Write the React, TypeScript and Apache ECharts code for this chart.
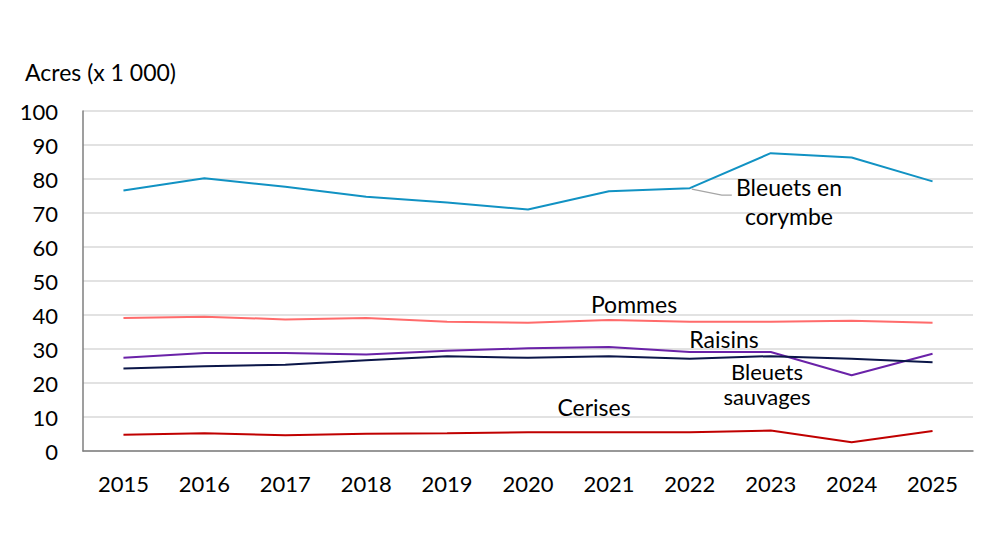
import React, { useEffect, useRef } from "react";
import * as echarts from "echarts";

const years = ["2015", "2016", "2017", "2018", "2019", "2020", "2021", "2022", "2023", "2024", "2025"];

const bleuetsCorymbe = [76.6, 80.2, 77.7, 74.8, 73.1, 71.0, 76.4, 77.3, 87.6, 86.3, 79.3];
const pommes = [39.1, 39.5, 38.7, 39.1, 38.0, 37.7, 38.5, 38.0, 38.0, 38.3, 37.7];
const raisins = [27.4, 28.8, 28.8, 28.4, 29.5, 30.2, 30.6, 29.1, 29.1, 22.3, 28.6];
const bleuetsSauvages = [24.3, 24.9, 25.4, 26.7, 27.9, 27.4, 27.9, 27.1, 27.9, 27.1, 26.1];
const cerises = [4.8, 5.2, 4.6, 5.1, 5.2, 5.5, 5.5, 5.5, 6.0, 2.6, 5.9];

const FONT = "Lato";

const App = () => {
  const chartContainer = useRef<HTMLDivElement>(null);

  useEffect(() => {
    if (!chartContainer.current) return;
    const chart = echarts.init(chartContainer.current, null, { renderer: "svg" });

    const line = (name: string, data: number[], color: string) => ({
      name,
      type: "line" as const,
      data,
      symbol: "none",
      lineStyle: { color, width: 2 },
      itemStyle: { color },
    });

    const label = (text: string, x: number, y: number, size = 23) => ({
      type: "text" as const,
      x,
      y,
      style: {
        text,
        fill: "#000",
        font: `${size}px ${FONT}`,
        align: "center",
        verticalAlign: "middle",
      },
    });

    const option: echarts.EChartsOption = {
      animation: false,
      backgroundColor: "#fff",
      grid: { left: 83, right: 19, top: 111, bottom: 107 },
      xAxis: {
        type: "category",
        data: years,
        boundaryGap: true,
        axisLine: { lineStyle: { color: "#7f7f7f", width: 1.5 } },
        axisTick: { show: false },
        axisLabel: { color: "#000", fontFamily: FONT, fontSize: 22, margin: 21 },
      },
      yAxis: {
        type: "value",
        min: 0,
        max: 100,
        interval: 10,
        axisLine: { show: true, lineStyle: { color: "#7f7f7f", width: 1.5 } },
        axisTick: { show: false },
        splitLine: { lineStyle: { color: "#d9d9d9", width: 1.5 } },
        axisLabel: { color: "#000", fontFamily: FONT, fontSize: 22, margin: 25 },
      },
      series: [
        line("Bleuets en corymbe", bleuetsCorymbe, "#1192c3"),
        line("Pommes", pommes, "#ff6b6b"),
        line("Raisins", raisins, "#6a22a8"),
        line("Bleuets sauvages", bleuetsSauvages, "#0b1648"),
        line("Cerises", cerises, "#c00000"),
      ],
    };

    chart.setOption(option);

    const start = chart.convertToPixel({ seriesIndex: 0 }, [7, bleuetsCorymbe[7]]) as number[];

    chart.setOption({
      graphic: [
        {
          type: "text",
          left: 25,
          top: 60,
          style: { text: "Acres (x 1 000)", fill: "#000", font: `23px ${FONT}` },
        },
        {
          type: "polyline",
          shape: { points: [[start[0] + 2, start[1] + 1], [start[0] + 32, start[1] + 7], [start[0] + 42, start[1] + 7]] },
          style: { stroke: "#a6a6a6", lineWidth: 1.2, fill: "none" },
        },
        label("Bleuets en", 789, 187),
        label("corymbe", 789, 216),
        label("Pommes", 634, 304),
        label("Raisins", 724, 339),
        label("Bleuets", 767, 371, 22),
        label("sauvages", 767, 396, 22),
        label("Cerises", 594, 407),
      ],
    });

    const handleResize = () => chart.resize();
    window.addEventListener("resize", handleResize);
    return () => {
      window.removeEventListener("resize", handleResize);
      chart.dispose();
    };
  }, []);

  return (
    <div
      ref={chartContainer}
      style={{ position: "fixed", left: 0, top: 0, width: 992, height: 558 }}
    />
  );
};

export default App;
